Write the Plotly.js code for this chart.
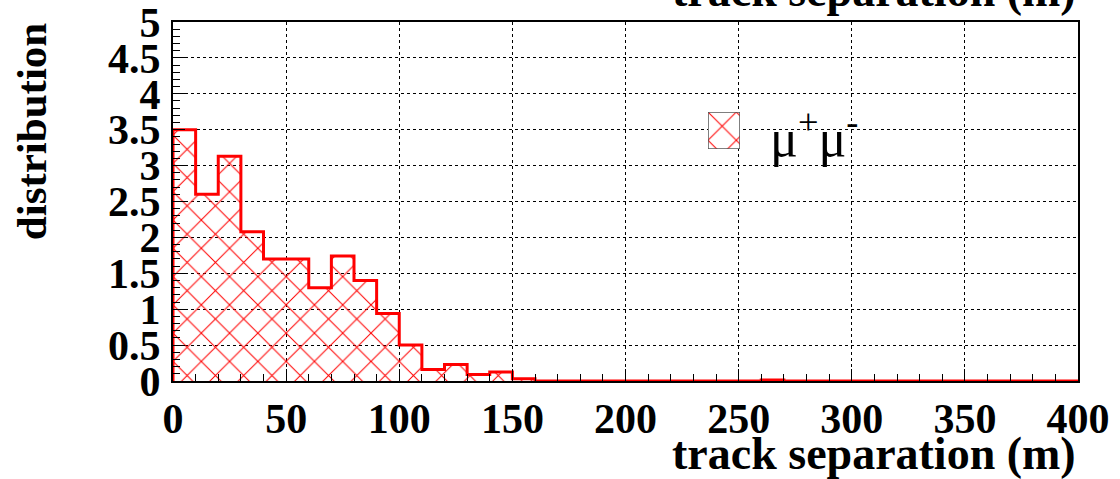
<!DOCTYPE html>
<html>
<head>
<meta charset="utf-8">
<script src="https://cdn.plot.ly/plotly-3.0.1.min.js"></script>
<style>html,body{margin:0;padding:0;background:#fff;}#chart{width:1120px;height:479px;}</style>
</head>
<body>
<div id="chart"></div>
<script>
// bin lower edges (m), width 10
const binEdges = [0,10,20,30,40,50,60,70,80,90,100,110,120,130,140,150,160,170,180,190,200,210,220,230,240,250,260,270,280,290,300,310,320,330,340,350,360,370,380,390,400];
const binValues = [3.50,2.60,3.13,2.08,1.70,1.70,1.30,1.74,1.40,0.94,0.50,0.16,0.23,0.09,0.125,0.03,0,0,0,0,0,0,0,0,0,0,0.015,0,0,0,0,0,0,0,0,0,0,0,0,0];
const seriesName = 'μ<sup>+</sup>μ<sup>-</sup>';
const xTitle = 'track separation (m)';
const yTitle = 'distribution';
const xTicks = [0,50,100,150,200,250,300,350,400];
const yTicks = [0,0.5,1,1.5,2,2.5,3,3.5,4,4.5,5];
const yTickText = ['0','0.5','1','1.5','2','2.5','3','3.5','4','4.5','5'];

const centers = binValues.map((v,i)=> (binEdges[i]+binEdges[i+1])/2);
const widths = binValues.map((v,i)=> binEdges[i+1]-binEdges[i]);
// stepped outline
const ox = [binEdges[0]];
const oy = [0];
binValues.forEach((v,i)=>{ ox.push(binEdges[i]); oy.push(v); });
ox.push(binEdges[binEdges.length-1]); oy.push(binValues[binValues.length-1]);
ox.push(binEdges[binEdges.length-1]); oy.push(0);

const font = {family:'"Liberation Serif", "Times New Roman", serif', color:'#000'};
const pattern = {shape:'x', fgcolor:'#ff0000', fgopacity:1, bgcolor:'rgba(0,0,0,0)', size:20, solidity:0.1, fillmode:'replace'};

const traces = [
  {type:'bar', x:centers, y:binValues, width:widths, marker:{color:'rgba(0,0,0,0)', pattern:pattern, line:{width:0}}, hoverinfo:'skip', showlegend:false},
  {type:'scatter', mode:'lines', x:ox, y:oy, line:{shape:'hv', color:'#ff0000', width:3}, showlegend:false, cliponaxis:false},
  // legend swatch
  {type:'bar', x:[0], y:[1], width:[1], xaxis:'x2', yaxis:'y2', marker:{color:'rgba(0,0,0,0)', pattern:pattern, line:{width:1.5, color:'#555'}}, showlegend:false, hoverinfo:'skip'}
];

const tickFont = {...font, size:42, weight:'bold'};
const layout = {
  width:1120, height:479,
  margin:{l:173, r:42, t:22, b:98},
  paper_bgcolor:'#fff', plot_bgcolor:'#fff',
  bargap:0, showlegend:false,
  font:{...font, size:40},
  xaxis:{range:[0,400], tickvals:xTicks, ticks:'inside', ticklen:12, tickwidth:1, tickcolor:'#000',
    minor:{dtick:10, ticks:'inside', ticklen:7, tickcolor:'#000', showgrid:false},
    showgrid:true, gridcolor:'#000', griddash:'dot', gridwidth:1,
    showline:true, linecolor:'#000', linewidth:2, mirror:true, zeroline:false,
    tickfont:tickFont, ticklabelstandoff:0, ticklabeloverflow:'allow', fixedrange:true},
  yaxis:{range:[0,5], tickvals:yTicks, ticktext:yTickText,
    ticks:'inside', ticklen:12, tickwidth:1, tickcolor:'#000',
    minor:{dtick:0.1, ticks:'inside', ticklen:7, tickcolor:'#000', showgrid:false},
    showgrid:true, gridcolor:'#000', griddash:'dot', gridwidth:1,
    showline:true, linecolor:'#000', linewidth:2, mirror:true, zeroline:false,
    tickfont:tickFont, ticklabelstandoff:2, ticklabeloverflow:'allow', fixedrange:true},
  xaxis2:{domain:[(708-173)/905,(740-173)/905], range:[-0.5,0.5], visible:false, anchor:'y2', fixedrange:true},
  yaxis2:{domain:[(381-149)/359,(381-112)/359], range:[0,1], visible:false, anchor:'x2', fixedrange:true},
  annotations:[
    {text:xTitle, xref:'paper', yref:'paper', x:1, xanchor:'right', y:(381-481)/359, yanchor:'bottom', showarrow:false, font:{...font, size:46, weight:'bold'}},
    {text:xTitle, xref:'paper', yref:'paper', x:1, xanchor:'right', y:(381-18)/359, yanchor:'bottom', showarrow:false, font:{...font, size:46, weight:'bold'}},
    {text:yTitle, xref:'paper', yref:'paper', x:(31-173)/905, xanchor:'center', y:1.005, yanchor:'top', textangle:-90, showarrow:false, font:{...font, size:43, weight:'bold'}},
    {text:seriesName, xref:'paper', yref:'paper', x:(768-173)/905, xanchor:'left', y:(381-134)/359, yanchor:'middle', showarrow:false, font:{...font, size:52}}
  ]
};

Plotly.newPlot('chart', traces, layout, {staticPlot:true, displayModeBar:false});
</script>
</body>
</html>
